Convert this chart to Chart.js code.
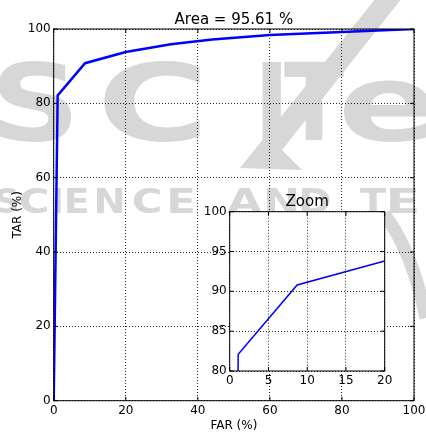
<!DOCTYPE html>
<html>
<head>
<meta charset="utf-8">
<script src="https://cdn.jsdelivr.net/npm/chart.js@4/dist/chart.umd.min.js"></script>
<style>
html,body{margin:0;padding:0;background:#fff;}
#wrap{position:relative;width:426px;height:436px;}
canvas{position:absolute;left:0;top:0;}
</style>
</head>
<body>
<div id="wrap">
<canvas id="main" width="426" height="436"></canvas>
<canvas id="inset" width="426" height="436"></canvas>
</div>
<script>
// ---- data ----
const far = [0, 1.1, 8.7, 20, 32.5, 44, 60, 80, 100];
const tar = [0, 82.1, 90.8, 93.8, 95.9, 97.2, 98.4, 99.2, 100];
const mainXTicks = [0, 20, 40, 60, 80, 100];
const mainYTicks = [0, 20, 40, 60, 80, 100];
const zoomXTicks = [0, 5, 10, 15, 20];
const zoomYTicks = [80, 85, 90, 95, 100];
const titleText = "Area = 95.61 %";
const zoomTitle = "Zoom";
const xLabel = "FAR (%)";
const yLabel = "TAR (%)";

const points = far.map((x, i) => ({x: x, y: tar[i]}));
const FONT = "'DejaVu Sans', sans-serif";

function tickCb(list){
  return function(scale){
    scale.ticks = list.map(v => ({value: v}));
  };
}

// place one glyph stretched to a target box (left x, width) on a baseline
function glyph(ctx, ch, x, w, base, size){
  ctx.save();
  ctx.font = "bold " + size + "px 'DejaVu Sans', sans-serif";
  const m = ctx.measureText(ch);
  const gw = m.actualBoundingBoxRight + m.actualBoundingBoxLeft;
  ctx.translate(x, base);
  ctx.scale(w / gw, 1);
  ctx.fillText(ch, m.actualBoundingBoxLeft, 0);
  ctx.restore();
}

function drawWatermark(ctx){
  ctx.save();
  ctx.fillStyle = '#d7d7d7';
  ctx.textBaseline = 'alphabetic';
  glyph(ctx, 'S', -2, 74, 140, 107);
  glyph(ctx, 'C', 104, 96, 140, 107);
  glyph(ctx, 'I', 262, 19, 140, 107);
  glyph(ctx, 'T', 284, 60, 140, 107);
  glyph(ctx, 'e', 343, 90, 140, 107);
  const line2 = [['S',-4,21],['C',20,27],['I',55,6],['E',67,20],['N',97,26],['C',133,27],['E',170,23],
                 ['A',227,36],['N',267,30],['D',302,28],['T',360,27],['E',390,27]];
  line2.forEach(g => glyph(ctx, g[0], g[1], g[2], 213, 34));
  ctx.beginPath();
  ctx.moveTo(376, -2);
  ctx.lineTo(402, -2);
  ctx.lineTo(282, 150);
  ctx.lineTo(302, 170);
  ctx.lineTo(240, 168);
  ctx.closePath();
  ctx.fill();
  ctx.strokeStyle = '#d7d7d7';
  ctx.lineWidth = 13;
  ctx.beginPath();
  ctx.moveTo(384, 214);
  ctx.quadraticCurveTo(412, 250, 426, 318);
  ctx.stroke();
  ctx.restore();
}

function decorPlugin(opts){
  return {
    id: 'decor' + opts.id,
    beforeDraw(chart){
      const ctx = chart.ctx, a = chart.chartArea;
      ctx.save();
      if (opts.watermark){
        ctx.fillStyle = '#fff';
        ctx.fillRect(0,0,chart.width,chart.height);
        drawWatermark(ctx);
      } else {
        ctx.fillStyle = '#fff';
        ctx.fillRect(a.left, a.top, a.right - a.left, a.bottom - a.top);
      }
      ctx.restore();
    },
    afterDraw(chart){
      const ctx = chart.ctx, a = chart.chartArea;
      const xs = chart.scales.x, ys = chart.scales.y;
      ctx.save();
      ctx.strokeStyle = '#000';
      ctx.lineWidth = 1;
      ctx.beginPath();
      xs.ticks.forEach(t => {
        const px = xs.getPixelForValue(t.value);
        ctx.moveTo(px, a.bottom); ctx.lineTo(px, a.bottom - 4);
        ctx.moveTo(px, a.top); ctx.lineTo(px, a.top + 4);
      });
      ys.ticks.forEach(t => {
        const py = ys.getPixelForValue(t.value);
        ctx.moveTo(a.left, py); ctx.lineTo(a.left + 4, py);
        ctx.moveTo(a.right, py); ctx.lineTo(a.right - 4, py);
      });
      ctx.stroke();
      ctx.strokeRect(a.left, a.top, a.right - a.left, a.bottom - a.top);
      ctx.fillStyle = '#000';
      ctx.textAlign = 'center';
      ctx.textBaseline = 'middle';
      ctx.font = "15px " + FONT;
      ctx.fillText(opts.title, (a.left + a.right) / 2, a.top - opts.titleGap);
      if (opts.axisTitles){
        ctx.font = "12px " + FONT;
        ctx.fillText(xLabel, (a.left + a.right) / 2, 426);
        ctx.save();
        ctx.translate(18, (a.top + a.bottom) / 2);
        ctx.rotate(-Math.PI / 2);
        ctx.fillText(yLabel, 0, 0);
        ctx.restore();
      }
      ctx.restore();
    }
  };
}

function makeChart(id, cfg){
  return new Chart(document.getElementById(id), {
    type: 'line',
    data: { datasets: [{
      data: points,
      borderColor: '#0000ff',
      borderWidth: cfg.lw,
      pointRadius: 0,
      tension: 0,
      fill: false
    }]},
    options: {
      responsive: false,
      animation: false,
      events: [],
      layout: { padding: cfg.padding },
      plugins: { legend: {display:false}, title:{display:false}, tooltip:{enabled:false} },
      scales: {
        x: {
          type: 'linear', min: cfg.xmin, max: cfg.xmax,
          afterBuildTicks: tickCb(cfg.xticks),
          afterFit(s){ s.height = cfg.xh; s.paddingLeft = 0; s.paddingRight = 0; },
          grid: { color: 'rgba(0,0,0,0.85)', lineWidth: 1, drawTicks: false },
          border: { display: false, dash: [1, 2] },
          ticks: { color: '#000', font: {family: FONT, size: 12}, padding: 3, maxRotation: 0, autoSkip: false }
        },
        y: {
          type: 'linear', min: cfg.ymin, max: cfg.ymax,
          afterBuildTicks: tickCb(cfg.yticks),
          afterFit(s){ s.width = cfg.yw; s.paddingTop = 0; s.paddingBottom = 0; },
          grid: { color: 'rgba(0,0,0,0.85)', lineWidth: 1, drawTicks: false },
          border: { display: false, dash: [1, 2] },
          ticks: { color: '#000', font: {family: FONT, size: 12}, padding: 3, autoSkip: false }
        }
      }
    },
    plugins: [decorPlugin(cfg.decor)]
  });
}

makeChart('main', {
  lw: 2.5, padding: {left: 0, top: 29, right: 12, bottom: 0},
  xmin: 0, xmax: 100, ymin: 0, ymax: 100,
  xticks: mainXTicks, yticks: mainYTicks,
  xh: 35.3, yw: 53.7,
  decor: {id: 'm', watermark: true, title: titleText, titleGap: 9, axisTitles: true}
});

makeChart('inset', {
  lw: 1.5, padding: {left: 200, top: 211.7, right: 41.3, bottom: 0},
  xmin: 0, xmax: 20, ymin: 80, ymax: 100,
  xticks: zoomXTicks, yticks: zoomYTicks,
  xh: 65, yw: 29.7,
  decor: {id: 'z', watermark: false, title: zoomTitle, titleGap: 10, axisTitles: false}
});
</script>
</body>
</html>
